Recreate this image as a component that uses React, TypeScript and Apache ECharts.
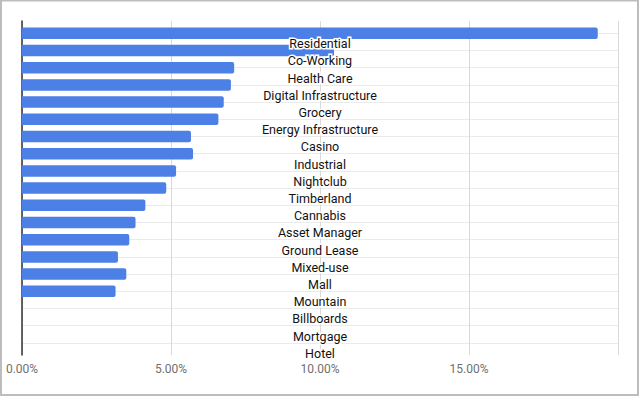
import React, { useEffect, useRef } from "react";
import * as echarts from "echarts";

const categories = [
  "Residential",
  "Co-Working",
  "Health Care",
  "Digital Infrastructure",
  "Grocery",
  "Energy Infrastructure",
  "Casino",
  "Industrial",
  "Nightclub",
  "Timberland",
  "Cannabis",
  "Asset Manager",
  "Ground Lease",
  "Mixed-use",
  "Mall",
  "Mountain",
  "Billboards",
  "Mortgage",
  "Hotel",
];

const values = [
  19.32, 10.47, 7.12, 7.01, 6.77, 6.59, 5.67, 5.74, 5.17, 4.84, 4.14, 3.81, 3.6,
  3.22, 3.5, 3.14, 0, 0, 0,
];

const xMin = 0;
const xMax = 20;
const xInterval = 5;

export default function App() {
  const ref = useRef<HTMLDivElement>(null);
  useEffect(() => {
    if (!ref.current) return;
    const chart = echarts.init(ref.current, null, { renderer: "svg" });
    const font = "Roboto, 'Noto Sans', Arial, sans-serif";
    chart.setOption({
      animation: false,
      textStyle: { fontFamily: font },
      graphic: [
        {
          type: "rect",
          shape: { x: 1, y: 0.5, width: 637, height: 394.5 },
          style: { fill: "none", stroke: "#bdbdbd", lineWidth: 2 },
          silent: true,
          z: -1,
        },
      ],
      grid: [
        { left: 22, right: 22, top: 24.7, bottom: 45.5, containLabel: false },
        { left: 22, right: 22, top: 21, bottom: 42, containLabel: false },
        { left: 22, right: 22, top: 35, bottom: 35.2, containLabel: false },
      ],
      xAxis: [
        {
          type: "value",
          gridIndex: 0,
          min: xMin,
          max: xMax,
          interval: xInterval,
          show: false,
          splitLine: { show: false },
        },
        {
          type: "value",
          gridIndex: 1,
          min: xMin,
          max: xMax,
          interval: xInterval,
          axisLine: { show: false },
          axisTick: { show: false },
          splitLine: { show: true, lineStyle: { color: "#d9d9d9", width: 1 } },
          axisLabel: {
            color: "#6f6f6f",
            fontSize: 12,
            fontFamily: font,
            margin: 8,
            showMaxLabel: false,
            formatter: (v: number) => v.toFixed(2) + "%",
          },
        },
        {
          type: "value",
          gridIndex: 2,
          min: xMin,
          max: xMax,
          show: false,
          splitLine: { show: false },
        },
      ],
      yAxis: [
        {
          type: "category",
          gridIndex: 0,
          data: categories,
          inverse: true,
          axisLine: { show: false },
          axisTick: { show: false },
          axisLabel: { show: false },
          splitLine: {
            show: true,
            alignWithLabel: true,
            lineStyle: { color: "#ebebeb", width: 1 },
          },
          z: 0,
        },
        {
          type: "value",
          gridIndex: 1,
          min: 0,
          max: 1,
          axisLine: { show: true, lineStyle: { color: "#333", width: 1.5 } },
          axisTick: { show: false },
          axisLabel: { show: false },
          splitLine: { show: false },
        },
        {
          type: "category",
          gridIndex: 2,
          data: categories,
          inverse: true,
          axisLine: { show: false },
          axisTick: { show: false },
          splitLine: { show: false },
          axisLabel: {
            interval: 0,
            margin: -298,
            align: "center",
            verticalAlign: "middle",
            color: "#111",
            fontSize: 12.5,
            fontFamily: font,
            textBorderColor: "#fff",
            textBorderWidth: 3,
          },
          z: 10,
        },
      ],
      series: [
        {
          type: "bar",
          xAxisIndex: 0,
          yAxisIndex: 0,
          data: values,
          barWidth: 11.5,
          itemStyle: { color: "#4d80e6", borderRadius: [0, 2, 2, 0] },
          z: 2,
        },
      ],
    });
    return () => chart.dispose();
  }, []);
  return (
    <div
      ref={ref}
      style={{ position: "fixed", left: 0, top: 0, width: 640, height: 397, background: "#fff" }}
    />
  );
}
